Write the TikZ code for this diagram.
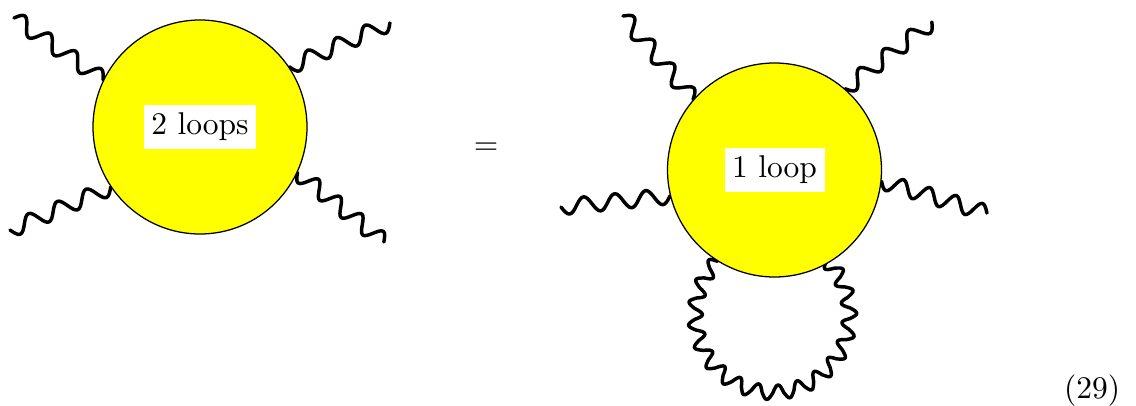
\documentclass[tikz,border=0pt]{standalone}
\usetikzlibrary{decorations,backgrounds}
\definecolor{pureyellow}{RGB}{255,255,0}
\pgfdeclaredecoration{fphoton}{wup}{
  \state{wup}[width=\pgfdecoratedpathlength*0.999/\wavecount,next state=wdown]{\halfwave{1}}
  \state{wdown}[width=\pgfdecoratedpathlength*0.999/\wavecount,next state=wup]{\halfwave{-1}}
  \state{final}{\pgfpathlineto{\pgfpointdecoratedpathlast}}
}
\def\wavecount{7}
\def\waveshear{0}
\newcommand{\halfwave}[1]{%
  \pgfmathsetlengthmacro\wq{\pgfdecoratedpathlength*0.999/\wavecount/2}%
  \pgfmathsetlengthmacro\wA{#1*\pgfdecorationsegmentamplitude}%
  \pgfmathsetlengthmacro\wS{\waveshear*\wA}%
  \pgfpathcurveto{\pgfpoint{.326*\wq+.5123*\wS}{.5123*\wA}}{\pgfpoint{.638*\wq+\wS}{\wA}}{\pgfpoint{\wq+\wS}{\wA}}%
  \pgfpathcurveto{\pgfpoint{1.362*\wq+\wS}{\wA}}{\pgfpoint{1.674*\wq+.5123*\wS}{.5123*\wA}}{\pgfpoint{2*\wq}{0pt}}%
}
\tikzset{
  blob/.style={circle,draw=black,line width=0.4pt,fill=pureyellow,minimum size=67.95pt,inner sep=0pt},
  blobtext/.style={fill=white,inner sep=2.4pt},
  photon/.style={line width=1.1pt,line cap=round,line join=round,decorate,
    decoration={fphoton,amplitude=2.5pt}},
  halves/.code={\def\wavecount{#1}},
  shear/.code={\def\waveshear{#1}},
  flip/.style={decoration={mirror}}
}
\begin{document}
\begin{tikzpicture}[x=0.3175pt,y=0.3175pt]
\useasboundingbox (0,0) rectangle (1136,405);
\node[blob] (A) at (200,278) {};
\node[blob] (B) at (774.5,235) {};
\node[blobtext] (ta) at (200,278) {2 loops};
\node[blobtext] (tb) at (774.5,235) {1 loop};
\node (eq) at (486,256.5) {=};
\node (num) at (1092,14) {(29)};
\coordinate (aTL) at (14,387);
\coordinate (aTR) at (390,382);
\coordinate (aBL) at (10,175);
\coordinate (aBR) at (384,163);
\coordinate (bTL) at (623,389);
\coordinate (bTR) at (932,383);
\coordinate (bL) at (561,198);
\coordinate (bR) at (987,192);
\begin{pgfonlayer}{background}
\draw[photon,halves=7] (aTL) -- (A.154);
\draw[photon,flip,halves=7] (A.34.4) -- (aTR);
\draw[photon,flip,halves=7] (aBL) -- (A.214);
\draw[photon,flip,halves=8] (A.-25.6) -- (aBR);
\draw[photon,halves=7] (bTL) -- (B.139);
\draw[photon,flip,halves=7] (B.49.6) -- (bTR);
\draw[photon,flip,halves=7] (bL) -- (B.194.5);
\draw[photon,flip,halves=8] (B.-6.4) -- (bR);
\draw[photon,flip,halves=34,decoration={amplitude=2.3pt}] (B.238.7) arc[start angle=135.5,end angle=405.5,radius=77];
\end{pgfonlayer}
\end{tikzpicture}
\end{document}
